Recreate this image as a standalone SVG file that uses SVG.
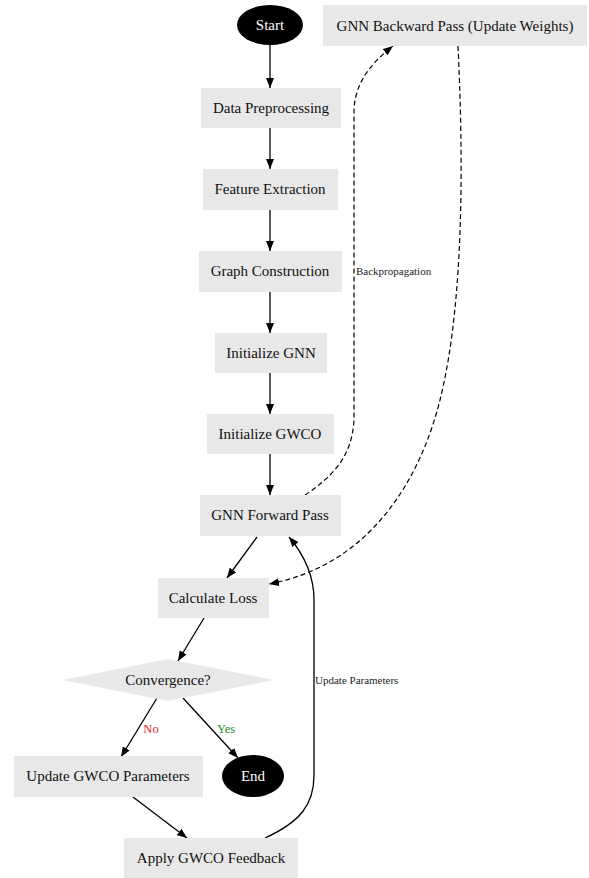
<svg xmlns="http://www.w3.org/2000/svg" width="589" height="878" viewBox="0 0 589 878">
<defs>
<marker id="ah" markerWidth="10" markerHeight="8" refX="10" refY="4" orient="auto" markerUnits="userSpaceOnUse">
<path d="M0,0 L10,4 L0,8 Z" fill="#000"/>
</marker>
<style>
.box{fill:#e8e8e8;stroke:none}
.t{font-family:"Liberation Serif","Times New Roman",serif;font-size:15px;fill:#111;text-anchor:middle}
.tw{font-family:"Liberation Serif","Times New Roman",serif;font-size:15px;fill:#fff;text-anchor:middle}
.e{fill:none;stroke:#000;stroke-width:1.3}
.d{fill:none;stroke:#000;stroke-width:1.2;stroke-dasharray:5,3}
.lbl{font-family:"Liberation Serif","Times New Roman",serif;font-size:11px;fill:#222}
</style>
</defs>
<rect width="589" height="878" fill="#fff"/>
<g id="connectors">
<path class="e" d="M270,45 V88" marker-end="url(#ah)"/>
<path class="e" d="M270,128 V169" marker-end="url(#ah)"/>
<path class="e" d="M270,210 V251" marker-end="url(#ah)"/>
<path class="e" d="M270,292 V333" marker-end="url(#ah)"/>
<path class="e" d="M270,373 V414" marker-end="url(#ah)"/>
<path class="e" d="M270,454 V495" marker-end="url(#ah)"/>
<path class="e" d="M257,537 L227,578" marker-end="url(#ah)"/>
<path class="e" d="M204,618 L178,661" marker-end="url(#ah)"/>
<path class="e" d="M157,698 L121,757" marker-end="url(#ah)"/>
<path class="e" d="M183,698 L238,758" marker-end="url(#ah)"/>
<path class="e" d="M133,797 L187,838" marker-end="url(#ah)"/>
<path class="e" d="M265,838 C300,822 314,805 314,775 V600 C314,570 300,550 289,537" marker-end="url(#ah)"/>
<path class="d" d="M305,495 C335,475 352,455 354,420 V110 C355,80 375,60 393,46" marker-end="url(#ah)"/>
<path class="d" d="M458,46 C463,150 465,300 440,400 C420,480 370,565 269,584" marker-end="url(#ah)"/>
<text class="lbl" x="356" y="275">Backpropagation</text>
<text class="lbl" x="315" y="684">Update Parameters</text>
<text x="151" y="733" font-family="Liberation Serif,serif" font-size="12.5" fill="#e8202a" text-anchor="middle">No</text>
<text x="226" y="733" font-family="Liberation Serif,serif" font-size="12.5" fill="#1e8a1e" text-anchor="middle">Yes</text>
</g>
<g id="start"><ellipse cx="270" cy="25" rx="33" ry="20" fill="#000"/><text class="tw" x="270" y="30">Start</text></g>
<g id="backward"><rect class="box" x="323" y="5" width="264" height="41"/><text class="t" x="455" y="31">GNN Backward Pass (Update Weights)</text></g>
<g id="preprocess"><rect class="box" x="201" y="88" width="140" height="40"/><text class="t" x="271" y="113">Data Preprocessing</text></g>
<g id="feature"><rect class="box" x="203" y="169" width="135" height="41"/><text class="t" x="270" y="194">Feature Extraction</text></g>
<g id="graph"><rect class="box" x="199" y="251" width="143" height="41"/><text class="t" x="270" y="276">Graph Construction</text></g>
<g id="initgnn"><rect class="box" x="215" y="333" width="112" height="40"/><text class="t" x="271" y="358">Initialize GNN</text></g>
<g id="initgwco"><rect class="box" x="207" y="414" width="127" height="40"/><text class="t" x="270" y="439">Initialize GWCO</text></g>
<g id="forward"><rect class="box" x="200" y="495" width="141" height="41"/><text class="t" x="270" y="520">GNN Forward Pass</text></g>
<g id="loss"><rect class="box" x="158" y="578" width="111" height="40"/><text class="t" x="213" y="603">Calculate Loss</text></g>
<g id="convergence"><polygon points="168,659 274,680 168,701 63,680" fill="#e8e8e8"/><text class="t" x="168" y="685">Convergence?</text></g>
<g id="update"><rect class="box" x="14" y="756" width="189" height="41"/><text class="t" x="108" y="781">Update GWCO Parameters</text></g>
<g id="end"><ellipse cx="253" cy="776" rx="31" ry="21" fill="#000"/><text class="tw" x="253" y="781">End</text></g>
<g id="apply"><rect class="box" x="124" y="838" width="174" height="40"/><text class="t" x="211" y="863">Apply GWCO Feedback</text></g>
</svg>
